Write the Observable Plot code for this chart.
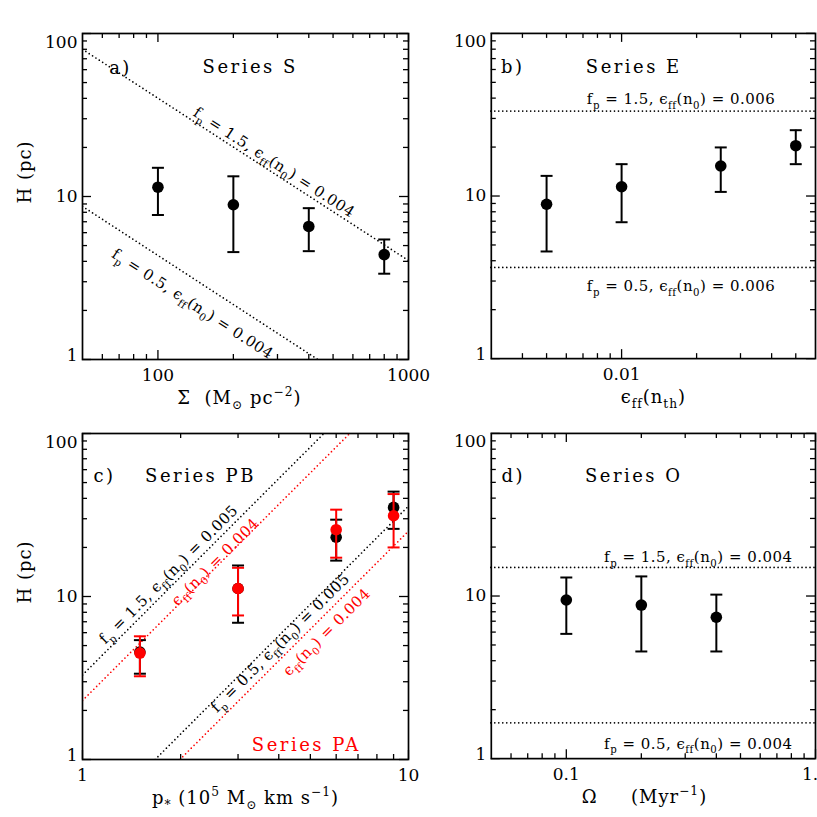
<!DOCTYPE html>
<html><head><meta charset="utf-8">
<script src="https://cdn.jsdelivr.net/npm/d3@7"></script>
<script src="https://cdn.jsdelivr.net/npm/@observablehq/plot@0.6"></script>
<style>
body{margin:0;background:#fff;}
#root{position:relative;width:817px;height:817px;overflow:hidden;background:#fff;}
.panel{position:absolute;}
.panel svg{overflow:visible;background:none;}
.panel text{white-space:pre;}
</style></head>
<body><div id="root"></div>
<script>
// ---------------- data ----------------
// shared y axis
const yTickValues = [1, 10, 100];
const yTickLabels = ["1", "10", "100"];
const yMinor = [2, 3, 4, 5, 6, 7, 8, 9, 20, 30, 40, 50, 60, 70, 80, 90];

// (a) Series S
const sigmaS = [100, 200, 400, 800];
const hS = [11.4, 8.9, 6.55, 4.4];
const hSlo = [7.7, 4.56, 4.62, 3.36];
const hShi = [15.0, 13.3, 8.48, 5.45];
const sigmaModel15 = [50, 1000];
const hModelS15 = [80, 4.05];
const sigmaModel05 = [50, 435];
const hModelS05 = [8.7, 1];
const xTicksA = [100, 1000];
const xTickLabelsA = ["100", "1000"];
const xMinorA = [60, 70, 80, 90, 200, 300, 400, 500, 600, 700, 800, 900];

// (b) Series E
const effE = [0.005, 0.01, 0.025, 0.05];
const hE = [8.9, 11.4, 15.3, 20.4];
const hElo = [4.56, 6.9, 10.6, 15.7];
const hEhi = [13.3, 15.7, 19.9, 25.4];
const hModelE15 = 33.3;
const hModelE05 = 3.64;
const xTicksB = [0.01];
const xTickLabelsB = ["0.01"];
const xMinorB = [0.004, 0.005, 0.006, 0.007, 0.008, 0.009, 0.02, 0.03, 0.04, 0.05];

// (c) Series PB (black) and PA (red)
const pC = [1.5, 3, 6, 9];
const hPB = [4.56, 11.2, 23.1, 35.2];
const hPBlo = [3.36, 6.9, 16.6, 26.0];
const hPBhi = [5.4, 15.5, 29.6, 44.0];
const hPA = [4.5, 11.2, 25.7, 31.3];
const hPAlo = [3.24, 7.65, 17.3, 20.0];
const hPAhi = [5.7, 15.0, 34.1, 42.5];
const pModelPB15 = [1, 5.5];   const hModelPB15 = [3.3, 100];
const pModelPA15 = [1, 6.6];   const hModelPA15 = [2.3, 100];
const pModelPB05 = [1.67, 10]; const hModelPB05 = [1, 35.9];
const pModelPA05 = [1.99, 10]; const hModelPA05 = [1, 25.2];
const xTicksC = [1, 10];
const xTickLabelsC = ["1", "10"];
const xMinorC = [2, 3, 4, 5, 6, 7, 8, 9];

// (d) Series O
const omegaO = [0.1, 0.2, 0.4];
const hO = [9.45, 8.8, 7.4];
const hOlo = [5.85, 4.56, 4.56];
const hOhi = [13.0, 13.2, 10.2];
const hModelO15 = 15.0;
const hModelO05 = 1.66;
const xTicksD = [0.1, 1];
const xTickLabelsD = ["0.1", "1.0"];
const xMinorD = [0.06, 0.07, 0.08, 0.09, 0.2, 0.3, 0.4, 0.5, 0.6, 0.7, 0.8, 0.9];

// ---------------- helpers ----------------
const FONT = "'DejaVu Serif', serif";
const RED = "#ff0000";
const cap = {draw(ctx, size) { const w = Math.sqrt(size / Math.PI); ctx.moveTo(-w, 0); ctx.lineTo(w, 0); }};
const spacing = new Map(); // text string -> letter spacing (px)

const rows = (xs, ys, lo, hi) => xs.map((x, i) => ({x, y: ys[i], lo: lo[i], hi: hi[i]}));
const pts = (xs, ys) => xs.map((x, i) => ({x, y: ys[i]}));

function series(data, color) {
  return [
    Plot.ruleX(data, {x: "x", y1: "lo", y2: "hi", stroke: color, strokeWidth: 2}),
    Plot.dot(data, {x: "x", y: "hi", symbol: cap, r: 6, stroke: color, fill: "none", strokeWidth: 2}),
    Plot.dot(data, {x: "x", y: "lo", symbol: cap, r: 6, stroke: color, fill: "none", strokeWidth: 2}),
    Plot.dot(data, {x: "x", y: "y", r: 5.8, fill: color, stroke: "none"})
  ];
}
const dotted = {strokeWidth: 1.7, strokeDasharray: "0,4", strokeLinecap: "round"};
function model(xs, ys, color) {
  return Plot.line(pts(xs, ys), {x: "x", y: "y", stroke: color, ...dotted, clip: true});
}
function level(v) {
  return Plot.ruleY([v], {y: d => d, stroke: "black", ...dotted});
}
function note(str, dx, dy, opts = {}, ls = 0) {
  if (ls) spacing.set(str, ls);
  return Plot.text([str], {text: d => d, frameAnchor: "top-left", dx, dy, textAnchor: "middle", ...opts});
}

function frameMarks(cfg, FW, FH) {
  const MJ = 9, MN = 5, sw = 1.3;
  const id = d => d;
  if (cfg.yTitle) spacing.set(cfg.yTitle, 1);
  spacing.set(cfg.xTitle, 1);
  return [
    Plot.tickX(cfg.xMajor, {x: id, insetTop: FH - MJ, strokeWidth: sw}),
    Plot.tickX(cfg.xMajor, {x: id, insetBottom: FH - MJ, strokeWidth: sw}),
    Plot.tickX(cfg.xMinor, {x: id, insetTop: FH - MN, strokeWidth: sw}),
    Plot.tickX(cfg.xMinor, {x: id, insetBottom: FH - MN, strokeWidth: sw}),
    Plot.tickY(yTickValues, {y: id, insetRight: FW - MJ, strokeWidth: sw}),
    Plot.tickY(yTickValues, {y: id, insetLeft: FW - MJ, strokeWidth: sw}),
    Plot.tickY(yMinor, {y: id, insetRight: FW - MN, strokeWidth: sw}),
    Plot.tickY(yMinor, {y: id, insetLeft: FW - MN, strokeWidth: sw}),
    Plot.frame({stroke: "black", strokeWidth: 1.7}),
    // tick labels
    Plot.text(cfg.xMajor, {x: d => d, text: (d, i) => cfg.xLabels[i], frameAnchor: "bottom", dy: 21, fontSize: 17}),
    Plot.text(yTickValues, {y: d => d, text: (d, i) => yTickLabels[i], frameAnchor: "left", dx: -5, textAnchor: "end", fontSize: 17,
      filter: d => d !== 1 && d !== 100}),
    Plot.text(yTickValues, {y: d => d, text: (d, i) => yTickLabels[i], frameAnchor: "left", dx: -5, dy: 2, textAnchor: "end", fontSize: 17,
      lineAnchor: "top", filter: d => d === 100}),
    Plot.text(yTickValues, {y: d => d, text: (d, i) => yTickLabels[i], frameAnchor: "left", dx: -5, dy: 1, textAnchor: "end", fontSize: 17,
      lineAnchor: "bottom", filter: d => d === 1}),
    // axis titles
    Plot.text([cfg.xTitle], {text: d => d, frameAnchor: "bottom", dy: 44, dx: cfg.xTitleDx || 0, fontSize: 18}),
    ...(cfg.yTitle ? [Plot.text([cfg.yTitle], {text: d => d, frameAnchor: "left", dx: -57, dy: 7, rotate: -90, fontSize: 18})] : [])
  ];
}

function richify(svg) {
  svg.querySelectorAll("text").forEach(t => {
    const s = t.textContent;
    if (spacing.has(s)) t.style.letterSpacing = spacing.get(s) + "px";
    if (!/[_^]\{/.test(s)) return;
    const F = parseFloat(getComputedStyle(t).fontSize) || 16;
    const parts = s.split(/([_^]\{[^}]*\})/).filter(p => p !== "");
    t.textContent = "";
    let shift = 0;
    for (const p of parts) {
      const ts = document.createElementNS("http://www.w3.org/2000/svg", "tspan");
      let target = 0, str = p, small = false;
      if (p.startsWith("_{")) { target = 0.3 * F; str = p.slice(2, -1); small = true; }
      else if (p.startsWith("^{")) { target = -0.42 * F; str = p.slice(2, -1); small = true; }
      const d = target - shift;
      if (d) ts.setAttribute("dy", d.toFixed(2));
      shift = target;
      if (small) ts.setAttribute("font-size", (0.68 * F).toFixed(2));
      ts.textContent = str;
      t.appendChild(ts);
    }
  });
}

function makePanel(cfg) {
  const W = 409, H = 409, ML = 82, MT = 33, MB = 50;
  const FW = W - ML - cfg.mr, FH = H - MT - MB;
  const svg = Plot.plot({
    width: W, height: H, marginLeft: ML, marginRight: cfg.mr, marginTop: MT, marginBottom: MB,
    style: {fontFamily: FONT, background: "none", overflow: "visible", color: "black"},
    x: {type: "log", domain: cfg.xDomain, axis: null},
    y: {type: "log", domain: [1, 100], axis: null},
    marks: [...cfg.marks, ...frameMarks(cfg, FW, FH)]
  });
  const div = document.createElement("div");
  div.className = "panel";
  div.style.left = cfg.left + "px";
  div.style.top = cfg.top + "px";
  div.appendChild(svg);
  document.getElementById("root").appendChild(div);
  richify(svg);
}

const labelOpts = {fontSize: 15};
const titleOpts = {fontSize: 18};
const LS_T = 2.5, LS_L = 0.5;

// (a)
makePanel({
  left: 0, top: 0, mr: 1, xDomain: [50, 1000],
  xMajor: xTicksA, xLabels: xTickLabelsA, xMinor: xMinorA,
  xTitle: "Σ  (M_{⊙} pc^{−2})", xTitleDx: -6, yTitle: "H (pc)",
  marks: [
    model(sigmaModel15, hModelS15, "black"),
    model(sigmaModel05, hModelS05, "black"),
    ...series(rows(sigmaS, hS, hSlo, hShi), "black"),
    note("a)", 38, 28, titleOpts, LS_T),
    note("Series S", 167.7, 27, titleOpts, LS_T),
    note("f_{p} = 1.5, ϵ_{ff}(n_{0}) = 0.004", 194.7, 124, {...labelOpts, rotate: 33}, LS_L),
    note("f_{p} = 0.5, ϵ_{ff}(n_{0}) = 0.004 ", 115.5, 267, {...labelOpts, rotate: 33}, LS_L)
  ]
});

// (b)
makePanel({
  left: 409, top: 0, mr: 2, xDomain: [0.003, 0.06],
  xMajor: xTicksB, xLabels: xTickLabelsB, xMinor: xMinorB,
  xTitle: "ϵ_{ff}(n_{th})", xTitleDx: 0, yTitle: null,
  marks: [
    level(hModelE15),
    level(hModelE05),
    ...series(rows(effE, hE, hElo, hEhi), "black"),
    note("b)", 21.5, 27, titleOpts, LS_T),
    note("Series E", 142.8, 26.5, titleOpts, LS_T),
    note("f_{p} = 1.5, ϵ_{ff}(n_{0}) = 0.006", 190.2, 60.3, labelOpts, LS_L),
    note("f_{p} = 0.5, ϵ_{ff}(n_{0}) = 0.006", 190.2, 248, labelOpts, LS_L)
  ]
});

// (c)
makePanel({
  left: 0, top: 400, mr: 1, xDomain: [1, 10],
  xMajor: xTicksC, xLabels: xTickLabelsC, xMinor: xMinorC,
  xTitle: "p_{*} (10^{5} M_{⊙} km s^{−1})", xTitleDx: 0, yTitle: "H (pc)",
  marks: [
    model(pModelPB15, hModelPB15, "black"),
    model(pModelPA15, hModelPA15, RED),
    model(pModelPB05, hModelPB05, "black"),
    model(pModelPA05, hModelPA05, RED),
    ...series(rows(pC, hPB, hPBlo, hPBhi), "black"),
    ...series(rows(pC, hPA, hPAlo, hPAhi), RED),
    note("c)", 22, 36, titleOpts, LS_T),
    note("Series PB", 118, 36, titleOpts, LS_T),
    note("Series PA", 223.8, 304.3, {...titleOpts, fill: RED}, LS_T),
    note("f_{p} = 1.5, ϵ_{ff}(n_{0}) = 0.005", 82, 137, {...labelOpts, rotate: -45}, LS_L),
    note("ϵ_{ff}(n_{0}) = 0.004", 128.7, 124.3, {...labelOpts, rotate: -45, fill: RED}, LS_L),
    note("f_{p} = 0.5, ϵ_{ff}(n_{0}) = 0.005", 193.7, 205.3, {...labelOpts, rotate: -45}, LS_L),
    note("ϵ_{ff}(n_{0}) = 0.004 ", 242, 192.7, {...labelOpts, rotate: -45, fill: RED}, LS_L)
  ]
});

// (d)
makePanel({
  left: 409, top: 400, mr: 2, xDomain: [0.05, 1],
  xMajor: xTicksD, xLabels: xTickLabelsD, xMinor: xMinorD,
  xTitle: "Ω     (Myr^{−1})", xTitleDx: -9, yTitle: null,
  marks: [
    level(hModelO15),
    level(hModelO05),
    ...series(rows(omegaO, hO, hOlo, hOhi), "black"),
    note("d)", 22, 36, titleOpts, LS_T),
    note("Series O", 142.8, 36, titleOpts, LS_T),
    note("f_{p} = 1.5, ϵ_{ff}(n_{0}) = 0.004", 207.5, 118.7, labelOpts, LS_L),
    note("f_{p} = 0.5, ϵ_{ff}(n_{0}) = 0.004", 207.5, 305.3, labelOpts, LS_L)
  ]
});
</script>
</body></html>
